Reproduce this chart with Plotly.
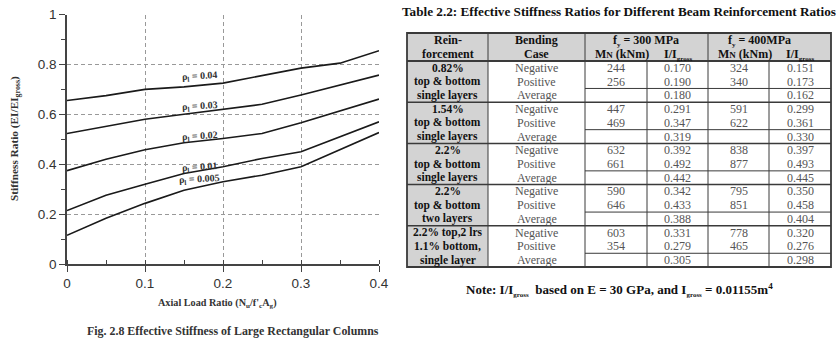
import plotly.graph_objects as go

# ---------------- chart data ----------------
axial_ratio = [0.0, 0.05, 0.1, 0.15, 0.2, 0.25, 0.3, 0.35, 0.4]
rho_004 = [0.655, 0.675, 0.700, 0.710, 0.725, 0.755, 0.785, 0.805, 0.855]
rho_003 = [0.523, 0.552, 0.580, 0.600, 0.620, 0.640, 0.677, 0.717, 0.757]
rho_002 = [0.374, 0.420, 0.458, 0.486, 0.503, 0.523, 0.566, 0.613, 0.661]
rho_001 = [0.214, 0.276, 0.320, 0.363, 0.390, 0.423, 0.450, 0.510, 0.570]
rho_0005 = [0.115, 0.183, 0.243, 0.296, 0.330, 0.356, 0.390, 0.458, 0.527]
series = [rho_004, rho_003, rho_002, rho_001, rho_0005]
series_labels = ["0.04", "0.03", "0.02", "0.01", "0.005"]
label_x = [0.17, 0.17, 0.17, 0.17, 0.17]
label_y = [0.751, 0.633, 0.513, 0.386, 0.339]
x_ticks = [0, 0.1, 0.2, 0.3, 0.4]
x_tick_text = ["0", "0.1", "0.2", "0.3", "0.4"]
y_ticks = [0, 0.2, 0.4, 0.6, 0.8, 1.0]
y_tick_text = ["0", "0.2", "0.4", "0.6", "0.8", "1"]

# ---------------- table data ----------------
reinf_labels = [["0.82%", "top & bottom", "single layers"],
                ["1.54%", "top & bottom", "single layers"],
                ["2.2%", "top & bottom", "single layers"],
                ["2.2%", "top & bottom", "two layers"],
                ["2.2% top,2 lrs", "1.1% bottom,", "single layer"]]
cases = ["Negative", "Positive", "Average"]
mn_300 = [[244, 256], [447, 469], [632, 661], [590, 646], [603, 354]]
ratio_300 = [[0.170, 0.190, 0.180], [0.291, 0.347, 0.319], [0.392, 0.492, 0.442],
             [0.342, 0.433, 0.388], [0.331, 0.279, 0.305]]
mn_400 = [[324, 340], [591, 622], [838, 877], [795, 851], [778, 465]]
ratio_400 = [[0.151, 0.173, 0.162], [0.299, 0.361, 0.330], [0.397, 0.493, 0.445],
             [0.350, 0.458, 0.404], [0.320, 0.276, 0.298]]

W, H = 836, 355
SERIF = "Liberation Serif, DejaVu Serif, serif"
SANS = "Liberation Sans, Arial, sans-serif"

def px(x):
    return x / W

def py(y):
    return 1 - y / H

fig = go.Figure()
for ys in series:
    fig.add_trace(go.Scatter(x=axial_ratio, y=ys, mode="lines",
                             line=dict(color="#1a1a1a", width=1.6),
                             showlegend=False, hoverinfo="skip"))

ann = []
for lab, lx, ly in zip(series_labels, label_x, label_y):
    ann.append(dict(x=lx, y=ly, xref="x", yref="y", text=f"<b>ρ<sub>l</sub> = {lab}</b>",
                    showarrow=False, textangle=-3,
                    font=dict(family=SERIF, size=10, color="#333")))

def txt(x, y, t, size, bold=False, color="#111", angle=0, family=SERIF, xanchor="center"):
    ann.append(dict(x=px(x), y=py(y), xref="paper", yref="paper",
                    text=(f"<b>{t}</b>" if bold else t),
                    showarrow=False, textangle=angle, xanchor=xanchor, yanchor="middle",
                    font=dict(family=family, size=size, color=color)))

txt(217, 303, "Axial Load Ratio (N<sub>u</sub>/f'<sub>c</sub>A<sub>g</sub>)", 10.2, bold=True, color="#333")
txt(15, 139, "Stiffness Ratio (EI/EI<sub>gross</sub>)", 11.3, bold=True, color="#333", angle=-90)
txt(233, 331, "Fig. 2.8 Effective Stiffness of Large Rectangular Columns", 11.9, bold=True, color="#333")

# ---------------- table geometry ----------------
col_edges = [407, 488, 585, 647, 708, 769, 831]
top, head_bot, bottom = 33, 61, 267
row_h = (bottom - head_bot) / 15
col_c = [(col_edges[i] + col_edges[i + 1]) / 2 for i in range(6)]
shapes = []
GRAY = "#d3d3d3"
LC = "#3a3a3a"

def rect(x0, y0, x1, y1, fill):
    shapes.append(dict(type="rect", xref="paper", yref="paper", x0=px(x0), y0=py(y0),
                       x1=px(x1), y1=py(y1), fillcolor=fill, line=dict(width=0), layer="below"))

def line(x0, y0, x1, y1, w=1.0):
    shapes.append(dict(type="line", xref="paper", yref="paper", x0=px(x0), y0=py(y0),
                       x1=px(x1), y1=py(y1), line=dict(color=LC, width=w)))

rect(col_edges[0], top, col_edges[-1], head_bot, GRAY)
rect(col_edges[0], head_bot, col_edges[1], bottom, GRAY)
line(col_edges[0], head_bot, col_edges[-1], head_bot, 2)
for g in range(1, 5):
    y = head_bot + 3 * g * row_h
    line(col_edges[0], y, col_edges[-1], y, 1.5)
for g in range(5):
    y = head_bot + (3 * g + 2) * row_h
    line(col_edges[2], y, col_edges[-1], y, 1)
for i in [1, 2, 4]:
    line(col_edges[i], top, col_edges[i], bottom, 1)
for i in [3, 5]:
    line(col_edges[i], head_bot, col_edges[i], bottom, 1)
shapes.append(dict(type="rect", xref="paper", yref="paper", x0=px(col_edges[0]), y0=py(top),
                   x1=px(col_edges[-1]), y1=py(bottom), line=dict(color=LC, width=1.8)))

txt(619, 12, "Table 2.2: Effective Stiffness Ratios for Different Beam Reinforcement Ratios",
    13.2, bold=True, color="#111")
SUB7 = "<sub><span style='font-size:7px'>{}</span></sub>"
hy1, hy2 = 40.5, 53.5
txt(col_c[0], hy1, "Rein-", 12, bold=True)
txt(col_c[0], hy2, "forcement", 12, bold=True)
txt(col_c[1], hy1, "Bending", 12, bold=True)
txt(col_c[1], hy2, "Case", 12, bold=True)
txt(col_edges[3] - 1, hy1 + 0.8, "f" + SUB7.format("y") + " = 300 MPa", 12, bold=True)
txt(col_edges[5] - 10, hy1 + 0.8, "f" + SUB7.format("y") + " = 400MPa", 12, bold=True)
for c in [2, 4]:
    txt(col_c[c] + 6, hy2 + 0.5, "M<span style='font-size:9px'>N</span> (kNm)", 12, bold=True)
    txt(col_c[c + 1], hy2 + 1.5, "I/I" + SUB7.format("gross"), 12, bold=True)

BODY = "#555"
for g in range(5):
    for r in range(3):
        yc = head_bot + (3 * g + r + 0.5) * row_h
        txt(col_c[0], yc, reinf_labels[g][r], 11.5, bold=True, color="#111")
        txt(col_c[1], yc, cases[r], 12, color=BODY)
        if r < 2:
            txt(col_c[2], yc, str(mn_300[g][r]), 12, color=BODY)
            txt(col_c[4], yc, str(mn_400[g][r]), 12, color=BODY)
        txt(col_c[3], yc, f"{ratio_300[g][r]:.3f}", 12, color=BODY)
        txt(col_c[5], yc, f"{ratio_400[g][r]:.3f}", 12, color=BODY)

txt(619, 290, "Note: I/I" + SUB7.format("gross") + "  based on E = 30 GPa, and I"
    + SUB7.format("gross") + " = 0.01155m<sup>4</sup>", 13, bold=True, color="#111")

axis_common = dict(showline=True, linecolor="#444", linewidth=1.5, showgrid=True,
                   gridcolor="#999999", griddash="4px,3px", gridwidth=1, zeroline=False,
                   ticks="outside", ticklen=6, tickcolor="#444", tickwidth=1.2, automargin=False,
                   tickfont=dict(family=SANS, size=13.5, color="#333"))
fig.update_layout(
    width=W, height=H, margin=dict(l=0, r=0, t=0, b=0),
    paper_bgcolor="white", plot_bgcolor="white", showlegend=False,
    xaxis=dict(domain=[67 / W, 379 / W], range=[0, 0.4], tickvals=x_ticks, ticktext=x_tick_text,
               minor=dict(dtick=0.05, ticks="inside", ticklen=4, tickcolor="#444", showgrid=False),
               anchor="y", **axis_common),
    yaxis=dict(domain=[(H - 264) / H, (H - 14.5) / H], range=[0, 1], tickvals=y_ticks,
               ticktext=y_tick_text,
               minor=dict(dtick=0.1, ticks="outside", ticklen=4, tickcolor="#444", showgrid=False),
               anchor="x", **axis_common),
    annotations=ann, shapes=shapes,
)
fig.write_html("out.html", config={"displayModeBar": False},
               post_script="document.body.style.margin='0';document.body.style.overflow='hidden';")
